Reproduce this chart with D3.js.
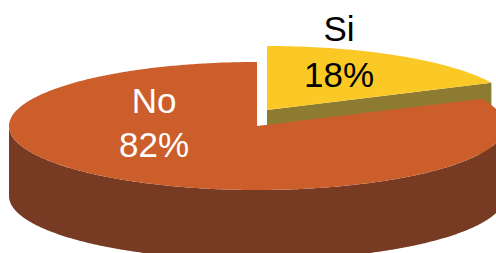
<!DOCTYPE html>
<html>
<head>
<meta charset="utf-8">
<script src="https://cdn.jsdelivr.net/npm/d3@7"></script>
<style>
  html, body { margin: 0; padding: 0; background: #fff; }
  svg { display: block; }
</style>
</head>
<body>
<svg id="chart" width="496" height="253"></svg>
<script>
// ---- data ----
const categories = ["Si", "No"];
const values = [18, 82];
const percentLabels = ["18%", "82%"];

// ---- styles / layout ----
const topColors = { Si: "#FBC925", No: "#CB5E2B" };
const sideColors = { Si: "#8D7B31", No: "#773A22" };
const textColors = { Si: "#000000", No: "#FFFFFF" };
const explodeOffset = { Si: [10, -16], No: [0, 0] };
const labelPos = { Si: [339, 41, 87], No: [154, 113, 157] };

const W = 496, H = 253;
const cx = 257, cy = 126, rx = 248, ry = 64, depth = 70;

const svg = d3.select("#chart");

const pie = d3.pie().sort(null).value(d => d.value);
const arcs = pie(categories.map((c, i) => ({ cat: c, value: values[i], label: percentLabels[i] })));

function proj(theta, r, off, dz) {
  return [cx + off[0] + rx * r * Math.sin(theta), cy + off[1] - ry * r * Math.cos(theta) + (dz || 0)];
}

function arcPoints(a0, a1, off, dz) {
  const n = Math.max(2, Math.ceil(Math.abs(a1 - a0) / 0.01));
  const pts = [];
  for (let i = 0; i <= n; i++) {
    const t = a0 + (a1 - a0) * i / n;
    pts.push(proj(t, 1, off, dz));
  }
  return pts;
}

const line = d3.line();

// draw back (more negative y offset) first
const order = arcs.slice().sort((a, b) => explodeOffset[a.data.cat][1] - explodeOffset[b.data.cat][1]);

order.forEach(a => {
  const cat = a.data.cat;
  const off = explodeOffset[cat];
  const g = svg.append("g").attr("class", "slice-" + cat);
  const a0 = a.startAngle, a1 = a.endAngle;
  const c = proj(0, 0, off, 0);

  // radial wall at end angle (visible when sin(a1) > 0)
  if (Math.sin(a1) > 0.001) {
    const p = proj(a1, 1, off, 0);
    g.append("path")
      .attr("d", line([c, p, [p[0], p[1] + depth], [c[0], c[1] + depth]]) + "Z")
      .attr("fill", sideColors[cat]);
  }
  // radial wall at start angle (visible when sin(a0) < 0)
  if (Math.sin(a0) < -0.001) {
    const p = proj(a0, 1, off, 0);
    g.append("path")
      .attr("d", line([c, p, [p[0], p[1] + depth], [c[0], c[1] + depth]]) + "Z")
      .attr("fill", sideColors[cat]);
  }
  // outer wall for the front-facing part of the rim
  const f0 = Math.max(a0, Math.PI / 2), f1 = Math.min(a1, 3 * Math.PI / 2);
  if (f1 > f0) {
    const topPts = arcPoints(f0, f1, off, 0);
    const botPts = arcPoints(f0, f1, off, depth).reverse();
    g.append("path")
      .attr("d", line(topPts.concat(botPts)) + "Z")
      .attr("fill", sideColors[cat]);
  }
  // top face
  const topFace = [c].concat(arcPoints(a0, a1, off, 0));
  g.append("path")
    .attr("d", line(topFace) + "Z")
    .attr("fill", topColors[cat]);
});

// labels
arcs.forEach(a => {
  const cat = a.data.cat;
  const [x, y1, y2] = labelPos[cat];
  const t = svg.append("text")
    .attr("text-anchor", "middle")
    .attr("font-family", "Liberation Sans, Arial, sans-serif")
    .attr("font-size", 35)
    .attr("fill", textColors[cat]);
  t.append("tspan").attr("x", x).attr("y", y1).text(cat);
  t.append("tspan").attr("x", x).attr("y", y2).text(a.data.label);
});
</script>
</body>
</html>
